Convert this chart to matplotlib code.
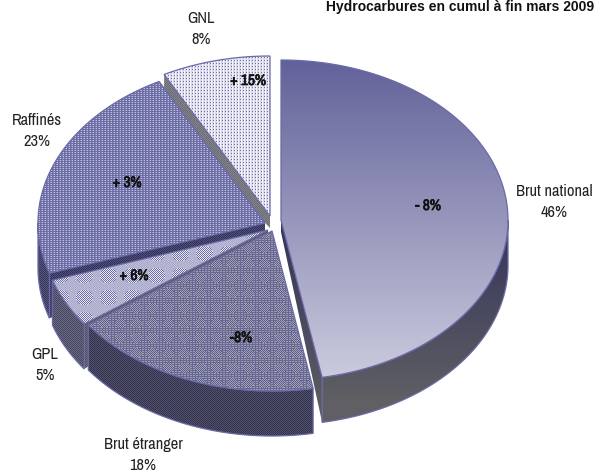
"""
plot.py
-------
Exploded 3D-look pie: hydrocarbon shares, cumulative to end of March 2009.
"""

import matplotlib
matplotlib.use("Agg")
import matplotlib.patheffects as pe
import matplotlib.pyplot as plt
import numpy as np
from matplotlib.patches import Polygon

plt.rcParams["font.family"] = ["Archivo Narrow", "Liberation Sans", "DejaVu Sans"]

# ---------------------------------------------------------------------------
# Data
# ---------------------------------------------------------------------------
CATEGORIES = ["Brut national", "Brut étranger", "GPL", "Raffinés", "GNL"]
SHARES     = [46, 18, 5, 23, 8]
DELTAS     = ["- 8%", "-8%", "+ 6%", "+ 3%", "+ 15%"]
TITLE      = "Hydrocarbures en cumul à fin mars 2009"

# ---------------------------------------------------------------------------
# Layout (pixels, y down)
# ---------------------------------------------------------------------------
W, H = 605, 476
RX, RY = 227, 160
DEPTH = 45
APEX_DEPTH = 12
CENTRES   = [(281, 220), (272, 231), (268, 230), (265, 223), (270, 216)]
LABEL_POS = [(554, 202), (143, 455), (45, 365), (37, 131), (201, 29)]
DELTA_POS = [(428, 206), (241, 338), (134, 276), (127, 183), (248, 81)]
EDGE = "#6a6aa8"

yy, xx = np.mgrid[0:H, 0:W]


def hexrgb(c):
    return np.array(matplotlib.colors.to_rgb(c))


def two_tone(mask, on, off):
    return np.where(mask[..., None], hexrgb(on), hexrgb(off))


def vgrad(top, bottom, y0, y1):
    t = np.clip((yy - y0) / (y1 - y0), 0, 1)[..., None]
    return hexrgb(top) * (1 - t) + hexrgb(bottom) * t


def blotches(px, py):
    # soft round patches where the dither pattern is strongest
    u = (xx % px) / px - 0.5
    v = (yy % py) / py - 0.5
    return (u * u + v * v) < 0.12


checker = (xx + yy) % 2 == 0

tex_top = [
    vgrad("#62629a", "#cbcbde", 60, 378),
    np.where(blotches(16, 15)[..., None],
             two_tone(checker, "#5c5c94", "#a4a4ac"),
             two_tone((xx % 3 == 0) | (yy % 2 == 0), "#686896", "#9c9caa")),
    np.where(blotches(24, 22)[..., None],
             two_tone(checker, "#6e6ea8", "#e8e8f0"),
             two_tone(checker, "#aaaaca", "#bcbcd6")),
    two_tone((xx % 3 == 0) & (yy % 2 == 0), "#d4d4e6",
             "#6c6ca6") * 0.5 + two_tone((xx % 3 == 1) | (yy % 2 == 1), "#6c6ca6", "#b4b4d2") * 0.5,
    np.where(((xx % 3 == 0) & (yy % 3 == 0))[..., None], hexrgb("#6c6ca8"),
             two_tone(xx % 3 == 1, "#f4f4f8", "#d8d8e8")),
]
tex_side = [
    vgrad("#35355a", "#5f5f64", 225, 400),
    two_tone(checker, "#33334e", "#50506a"),
    two_tone(checker, "#45455f", "#6a6a82"),
    two_tone(checker, "#33335a", "#5a5a80"),
    two_tone(checker, "#55555c", "#80808a"),
]
tex_wall = [
    vgrad("#35355a", "#5f5f64", 225, 420),
    None,
    two_tone(checker, "#50505e", "#6c6c78"),
    two_tone(checker, "#303058", "#505078"),
    two_tone(checker, "#6a6a70", "#85858c"),
]


# ---------------------------------------------------------------------------
# Geometry
# ---------------------------------------------------------------------------
def warp(deg):
    # the tilted view pushes slice edges a few degrees round, none at 12 o'clock
    return deg + 4 * np.sin(np.radians(deg) / 2)


def rim(centre, a0, a1, n=120):
    a = np.radians(np.linspace(a0, a1, n))
    return np.column_stack((centre[0] + RX * np.sin(a), centre[1] - RY * np.cos(a)))


def fill(ax, verts, tex, z):
    im = ax.imshow(tex, extent=(0, W, H, 0), interpolation="nearest",
                   aspect="auto", zorder=z)
    patch = Polygon(verts, closed=True, transform=ax.transData,
                    facecolor="none", edgecolor="none")
    ax.add_patch(patch)
    im.set_clip_path(patch)


def outline(ax, verts, z):
    ax.add_patch(Polygon(verts, closed=True, facecolor="none", edgecolor=EDGE,
                         lw=0.9, zorder=z))


# ---------------------------------------------------------------------------
# Plot
# ---------------------------------------------------------------------------
fig = plt.figure(figsize=(W / 100, H / 100), dpi=100)
ax = fig.add_axes([0, 0, 1, 1])

edges = warp(np.concatenate(([0], np.cumsum(SHARES))) * 3.6)

# paint back to front: GNL, Raffinés, GPL, Brut étranger, Brut national
for rank, i in enumerate([4, 3, 2, 1, 0]):
    c = CENTRES[i]
    a0, a1 = edges[i], edges[i + 1]
    z = 2 + rank * 4
    arc = rim(c, a0, a1)
    apex = np.array(c, dtype=float)

    # cut face seen through the gap: lower edge of each slice, none for Brut étranger
    if tex_wall[i] is not None:
        p = arc[-1] if i == 0 else arc[0]
        wall = np.array([apex, p, p + (0, DEPTH), apex + (0, APEX_DEPTH)])
        fill(ax, wall, tex_wall[i], z)

    # outer wall, only the part facing the viewer
    s0, s1 = max(a0, 90), min(a1, 270)
    if s1 > s0:
        front = rim(c, s0, s1)
        side = np.vstack((front, front[::-1] + (0, DEPTH)))
        fill(ax, side, tex_side[i], z + 1)
        outline(ax, side, z + 1.5)

    top = np.vstack((apex, arc))
    fill(ax, top, tex_top[i], z + 2)
    outline(ax, top, z + 3)

ax.set_xlim(0, W)
ax.set_ylim(H, 0)
ax.axis("off")

for name, share, pos in zip(CATEGORIES, SHARES, LABEL_POS):
    ax.text(pos[0], pos[1], f"{name}\n{share}%", ha="center", va="center",
            fontsize=11.8, color="#222222", linespacing=1.5, zorder=40)

# the narrow face has no bold cut here, so thicken it with a thin stroke
for d, pos in zip(DELTAS, DELTA_POS):
    ax.text(pos[0], pos[1], d, ha="center", va="center", fontsize=11,
            color="#111111", zorder=40,
            path_effects=[pe.withStroke(linewidth=0.5, foreground="#111111")])

ax.text(594, 10.5, TITLE, ha="right", va="baseline", fontsize=10,
        family=["Liberation Sans", "DejaVu Sans"], fontweight="bold",
        color="#111111", zorder=40)

fig.savefig("out.png", dpi=100)
plt.close(fig)
